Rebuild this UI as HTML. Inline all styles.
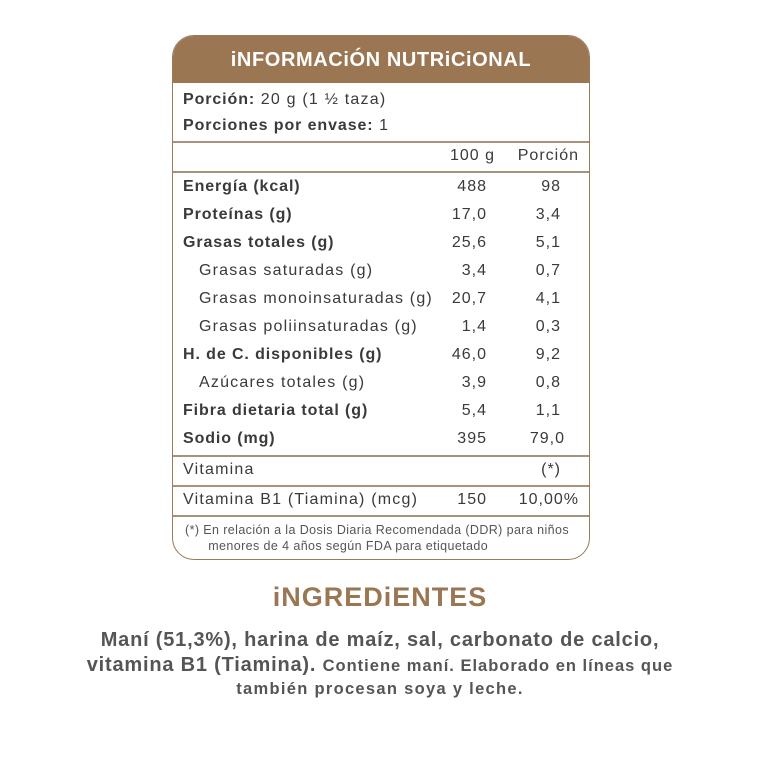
<!DOCTYPE html>
<html><head><meta charset="utf-8"><style>
body{margin:0;width:760px;height:760px;background:#fff;font-family:"Liberation Sans",sans-serif;color:#3a3a3a;position:relative;overflow:hidden}
.box{position:absolute;left:172px;top:35px;width:418px;height:525px;border:1.5px solid #9b7a58;border-radius:22px;overflow:hidden;box-sizing:border-box}
.hd{position:absolute;left:0;top:0;width:100%;height:47px;background:#9a7652;color:#fff;font-weight:bold;font-size:20px;letter-spacing:0.6px;text-align:center;line-height:48px}
.t{position:absolute;font-size:16px;white-space:nowrap;letter-spacing:1.2px}
.b{font-weight:bold;letter-spacing:0.9px}
.ln{position:absolute;left:0;width:100%;height:1.5px;background:#a8927c}
.r{position:absolute;font-size:16px;text-align:right;white-space:nowrap;letter-spacing:1px}
h2{position:absolute;left:0;width:760px;top:582px;margin:0;text-align:center;color:#9a7652;font-size:27px;letter-spacing:1px;font-weight:bold}
.ing{position:absolute;left:0;width:760px;text-align:center;color:#555;font-weight:bold}
</style></head><body>
<div class="box">
<div class="hd">iNFORMACiÓN NUTRiCiONAL</div>
<div class="t" style="left:10px;top:55px"><span class="b">Porción:</span> 20 g (1 ½ taza)</div>
<div class="t" style="left:10px;top:81px"><span class="b">Porciones por envase:</span> 1</div>
<div class="ln" style="top:105px"></div>
<div class="r" style="right:94px;top:111px">100 g</div>
<div class="r" style="right:10px;top:111px">Porción</div>
<div class="ln" style="top:135px"></div>
<div class="t b" style="left:10px;top:142px">Energía (kcal)</div><div class="r" style="right:102px;top:142px">488</div><div class="r" style="right:28px;top:142px">98</div>
<div class="t b" style="left:10px;top:170px">Proteínas (g)</div><div class="r" style="right:102px;top:170px">17,0</div><div class="r" style="right:28px;top:170px">3,4</div>
<div class="t b" style="left:10px;top:198px">Grasas totales (g)</div><div class="r" style="right:102px;top:198px">25,6</div><div class="r" style="right:28px;top:198px">5,1</div>
<div class="t" style="left:26px;top:226px">Grasas saturadas (g)</div><div class="r" style="right:102px;top:226px">3,4</div><div class="r" style="right:28px;top:226px">0,7</div>
<div class="t" style="left:26px;top:254px">Grasas monoinsaturadas (g)</div><div class="r" style="right:102px;top:254px">20,7</div><div class="r" style="right:28px;top:254px">4,1</div>
<div class="t" style="left:26px;top:282px">Grasas poliinsaturadas (g)</div><div class="r" style="right:102px;top:282px">1,4</div><div class="r" style="right:28px;top:282px">0,3</div>
<div class="t b" style="left:10px;top:310px">H. de C. disponibles (g)</div><div class="r" style="right:102px;top:310px">46,0</div><div class="r" style="right:28px;top:310px">9,2</div>
<div class="t" style="left:26px;top:338px">Azúcares totales (g)</div><div class="r" style="right:102px;top:338px">3,9</div><div class="r" style="right:28px;top:338px">0,8</div>
<div class="t b" style="left:10px;top:366px">Fibra dietaria total (g)</div><div class="r" style="right:102px;top:366px">5,4</div><div class="r" style="right:28px;top:366px">1,1</div>
<div class="t b" style="left:10px;top:394px">Sodio (mg)</div><div class="r" style="right:102px;top:394px">395</div><div class="r" style="right:24px;top:394px">79,0</div>
<div class="ln" style="top:419px"></div>
<div class="t" style="left:10px;top:425px">Vitamina</div><div class="r" style="right:28px;top:425px">(*)</div>
<div class="ln" style="top:449px"></div>
<div class="t" style="left:10px;top:455px">Vitamina B1 (Tiamina) (mcg)</div><div class="r" style="right:102px;top:455px">150</div><div class="r" style="right:10px;top:455px">10,00%</div>
<div class="ln" style="top:479px"></div>
<div class="t" style="left:12px;top:486px;font-size:12.5px;line-height:16px;color:#555;letter-spacing:0.4px">(*) En relación a la Dosis Diaria Recomendada (DDR) para niños<br>&nbsp; &nbsp; &nbsp; menores de 4 años según FDA para etiquetado</div>
</div>
<h2>iNGREDiENTES</h2>
<div class="ing" style="top:628px;font-size:20px;line-height:25px;letter-spacing:0.8px">Maní (51,3%), harina de maíz, sal, carbonato de calcio,<br>vitamina B1 (Tiamina). <span style="font-size:16.5px;letter-spacing:1px">Contiene maní. Elaborado en líneas que</span></div>
<div class="ing" style="top:680px;font-size:16.5px;letter-spacing:1.3px">también procesan soya y leche.</div>
</body></html>
